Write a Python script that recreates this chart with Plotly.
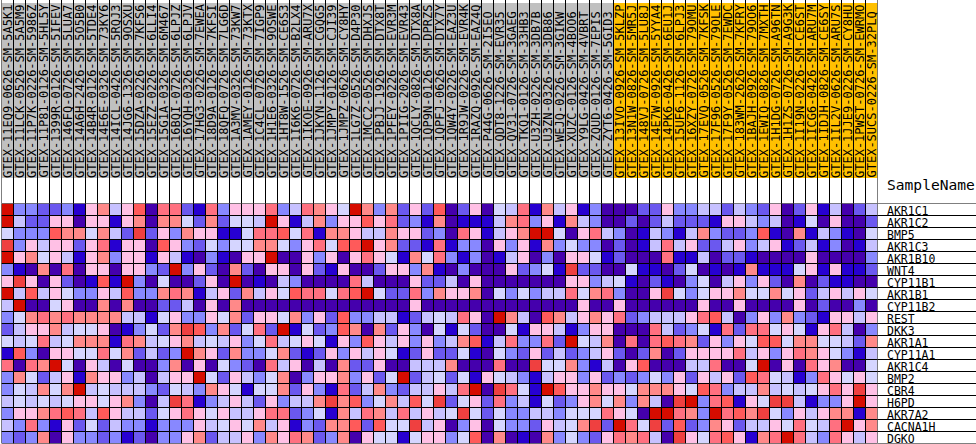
import plotly.graph_objects as go

samples = """GTEX-11EQ9-0626-SM-5A5K1 GTEX-11LCK-0526-SM-5A5M9 GTEX-11P7K-0226-SM-5986Z GTEX-11P81-0126-SM-5HL5Y GTEX-1399R-0126-SM-5IFEV GTEX-146FQ-0726-SM-5LUA7 GTEX-14A6H-2426-SM-5O5B0 GTEX-14B4R-0126-SM-5TDE4 GTEX-14E6E-0326-SM-73KY6 GTEX-14ICL-0426-SM-5RQJ3 GTEX-14JG6-1326-SM-9OSXU GTEX-15DZA-0226-SM-7KFS6 GTEX-15EZZ-0226-SM-6LLI4 GTEX-15G1A-0326-SM-6M467 GTEX-16BQI-0726-SM-6LPJZ GTEX-16YQH-0326-SM-6LPJV GTEX-17HG3-0226-SM-7EWEA GTEX-18D9A-0126-SM-7KFSI GTEX-18QFQ-0726-SM-7LG6D GTEX-1A3MV-0326-SM-73KW7 GTEX-1AMEY-0126-SM-73KTX GTEX-1C4CL-0726-SM-7IGP9 GTEX-1H1E6-0326-SM-9OSWE GTEX-1HT8W-1526-SM-CE6S3 GTEX-1I6K6-0726-SM-B2LX4 GTEX-1IKOE-0926-SM-ARU7X GTEX-1JKYN-1126-SM-CGQG5 GTEX-1JMPY-0126-SM-CJI39 GTEX-1JMPZ-0626-SM-CY8HY GTEX-1LG7Z-0526-SM-D4P30 GTEX-1MCC2-0526-SM-DHXJS GTEX-1PBJJ-1926-SM-DTX8T GTEX-1PFEY-0226-SM-EVR3M GTEX-1PIIG-2026-SM-EVR43 GTEX-1QCLY-0826-SM-DTX8A GTEX-1QP9N-0126-SM-DPRZS GTEX-1QPFJ-0626-SM-DTX7Y GTEX-1QW4Y-0226-SM-EAZ3U GTEX-1R9JW-0226-SM-EVR4K GTEX-1RAZQ-0926-SM-EAZ4Q GTEX-P44G-0626-SM-2I5EO GTEX-QDT8-1226-SM-EVR35 GTEX-QV31-0726-SM-3GAEG GTEX-TKQ1-0126-SM-33HB3 GTEX-U3ZH-0226-SM-3DB7B GTEX-U3ZN-0326-SM-3DB86 GTEX-WEJQ-0226-SM-3GIKW GTEX-XUZC-0126-SM-4BOO6 GTEX-Y9LG-0426-SM-4VBRT GTEX-ZQUD-0126-SM-7EPIS GTEX-ZYT6-0426-SM-5GID3 GTEX-13IVO-0926-SM-5KLZP GTEX-13N1W-0826-SM-5MR5J GTEX-148VJ-0726-SM-5LU8J GTEX-14E7W-0926-SM-5YYA4 GTEX-14PK6-0426-SM-6EU1J GTEX-15UF6-1126-SM-6LPJ3 GTEX-16XZY-0726-SM-79OMU GTEX-17EVQ-0526-SM-7KFSK GTEX-17F96-0526-SM-79OLE GTEX-17F9Y-0526-SM-7EWDC GTEX-183WM-2626-SM-7KFRY GTEX-1BAJH-0926-SM-79OO6 GTEX-1EWIQ-0826-SM-7MXTH GTEX-1H1DG-0726-SM-A96TN GTEX-1H1ZS-0726-SM-A9G3K GTEX-1I19N-0226-SM-CE6ST GTEX-1ICG6-0426-SM-ARU7M GTEX-1IDJH-0826-SM-CE6SY GTEX-1IL2V-0626-SM-ARU7S GTEX-1JJE9-0226-SM-CY8HU GTEX-1PWST-0726-SM-EWRMO GTEX-SUCS-0226-SM-32PLQ""".split()
n_gray = 51

genes = ["AKR1C1","AKR1C2","BMP5","AKR1C3","AKR1B10","WNT4","CYP11B1","AKR1B1","CYP11B2","REST",
         "DKK3","AKR1A1","CYP11A1","AKR1C4","BMP2","CBR4","H6PD","AKR7A2","CACNA1H","DGKO"]

palette = ["#4500ad","#2700d1","#6b58ef","#8888ff","#c7c1ff","#d5d5ff",
           "#ffc0e5","#ff8989","#ff7080","#ff5a5a","#ef4040","#d60c00"]

AKR1C1 = [11,3,3,2,2,3,1,6,7,4,6,9,0,8,8,2,1,8,3,6,6,6,8,3,4, 8,7,6,5,11,7,3,7,2,6,2,9,0,2,6,0,5,4,8,1,7,4,6,1, 3,0,0,0,2,2,6,3,3,4,4,2,4,3,2,6,0,2,6,1,4,0,2,4]
AKR1C2 = [11,4,2,2,6,6,0,6,6,1,6,7,0,7,7,5,2,7,2,5,5,4,11,6,1, 4,7,3,6,6,9,6,8,2,3,1,7,0,1,1,1,4,7,8,3,6,1,7,4, 3,0,0,2,0,2,4,2,2,2,1,6,6,4,3,4,0,1,5,0,6,0,0,2]
BMP5 = [5,3,3,3,9,7,7,5,7,4,2,10,2,6,3,7,6,6,1,1,5,8,8,9,5, 8,1,7,7,6,4,4,7,6,6,2,3,0,8,6,1,4,6,7,11,11,5,0,6, 8,4,3,0,1,4,3,1,4,7,3,2,2,3,9,1,0,7,1,4,3,1,0,5]
AKR1C3 = [10,3,6,4,6,6,2,6,8,1,6,6,0,9,6,3,2,5,3,5,5,7,7,5,3, 6,8,5,9,9,11,6,7,2,2,1,8,1,3,3,0,6,3,6,1,7,3,5,3, 3,0,2,0,1,4,8,4,6,2,2,4,6,3,4,6,1,2,4,1,3,0,1,4]
AKR1B10 = [11,6,7,5,6,4,1,6,7,3,6,6,1,6,4,1,0,3,1,0,6,6,11,0,0, 6,3,6,0,6,8,6,5,1,7,5,8,3,1,3,0,1,4,6,0,3,0,6,6, 5,1,2,0,0,0,8,1,1,4,0,2,2,1,0,0,0,0,6,0,0,0,0,3]
WNT4 = [3,1,0,7,0,8,0,6,6,0,6,6,3,2,11,3,6,2,0,7,2,0,6,6,0, 6,2,1,6,0,0,2,6,6,3,7,1,0,3,0,0,0,6,2,3,5,1,10,2, 2,0,0,5,1,1,0,2,5,0,1,0,1,7,1,1,1,5,6,1,6,1,1,2]
CYP11B1 = [6,10,6,0,6,2,0,1,9,1,11,3,0,5,0,0,2,6,0,11,0,1,0,4,3, 0,0,0,0,8,4,0,0,0,6,2,2,4,0,6,0,0,0,0,0,0,0,6,6, 3,4,5,1,0,2,1,0,3,5,0,4,6,3,6,2,0,7,0,2,1,1,0,0]
AKR1B1 = [11,4,9,4,6,5,3,3,6,4,9,3,3,7,8,7,1,4,6,2,7,4,6,5,9, 8,8,5,8,9,11,5,2,2,8,3,7,6,6,7,0,5,3,5,3,4,4,8,5, 7,8,3,0,0,6,10,5,3,5,6,6,7,5,5,7,5,6,2,4,6,4,6,5]
CYP11B2 = [4,11,0,0,5,6,0,0,7,0,7,0,0,2,2,4,0,6,0,7,0,0,0,0,0, 0,0,0,0,0,0,0,0,0,6,0,0,0,0,0,0,0,0,0,0,0,0,0,6, 0,0,6,0,0,0,0,0,0,6,0,0,6,0,0,0,0,6,0,2,0,0,3,0]
REST = [3,5,7,8,7,8,7,7,7,7,4,4,1,5,6,3,3,6,5,7,2,6,6,5,7, 3,6,2,9,3,3,4,4,1,2,4,5,4,8,6,0,11,7,4,0,9,7,4,6, 7,6,8,2,3,4,4,4,6,8,9,4,0,3,6,3,7,3,2,1,6,6,4,6]
DKK3 = [2,4,6,6,7,4,5,5,6,0,1,3,5,2,7,10,9,3,7,2,5,8,2,11,1, 5,2,3,9,7,0,7,2,6,3,0,5,1,5,2,0,0,5,1,6,6,4,1,3, 6,6,0,0,0,8,4,2,3,5,1,8,2,8,8,5,6,5,1,6,8,4,0,3]
AKR1A1 = [5,4,5,8,4,5,7,7,7,1,8,7,4,5,6,7,4,5,4,6,3,5,8,4,5, 6,5,1,6,3,9,6,4,6,3,6,3,4,7,9,1,4,8,3,3,8,2,11,5, 4,7,0,8,0,8,9,8,7,2,6,3,6,5,9,9,5,7,7,5,5,4,2,7]
CYP11A1 = [1,9,3,0,6,6,5,5,8,5,7,2,4,2,3,11,7,6,2,7,3,3,5,7,2, 1,2,6,3,6,4,6,5,1,2,6,2,2,5,1,0,5,3,2,6,2,4,2,3, 4,6,2,0,2,7,0,2,6,6,6,6,8,4,6,3,6,8,7,6,5,3,1,4]
AKR1C4 = [8,0,8,7,11,5,0,6,4,0,5,0,0,3,7,0,6,0,5,3,2,0,8,4,6, 0,4,0,7,2,2,6,0,0,4,4,4,7,0,0,0,8,0,0,10,5,5,7,3, 1,4,0,6,9,0,0,0,4,4,8,0,0,5,11,0,6,0,8,6,7,0,0,5]
BMP2 = [3,7,5,2,4,6,1,7,6,6,3,4,0,4,6,6,11,5,2,6,4,3,5,7,0, 3,6,6,7,3,6,2,5,11,2,4,5,2,5,1,6,5,4,3,1,4,6,6,3, 6,2,3,2,3,5,3,6,2,6,4,6,2,9,8,5,4,1,3,8,6,5,6,5]
CBR4 = [3,5,4,7,5,7,11,4,5,4,4,4,3,2,5,4,3,7,6,5,1,5,5,7,2, 6,3,1,8,2,4,7,3,2,4,4,6,4,8,11,0,10,8,5,1,11,9,6,6, 7,6,6,5,7,7,7,6,5,9,8,3,4,4,7,4,5,4,5,6,8,6,10,6]
H6PD = [4,5,4,5,4,5,6,6,5,6,7,3,0,4,10,8,1,3,4,6,4,2,6,3,4, 4,7,10,7,9,3,5,7,4,9,5,10,2,5,6,2,8,3,4,1,5,2,3,6, 7,5,7,3,7,4,0,10,11,3,8,9,1,6,5,10,10,4,1,3,3,6,11,6]
AKR7A2 = [3,6,6,7,8,9,8,4,9,6,4,4,2,5,6,8,6,5,6,4,4,6,8,8,2, 3,5,1,7,4,8,7,4,8,4,6,4,5,10,5,2,5,3,3,4,4,3,5,5, 5,8,6,5,0,11,11,8,7,3,11,8,9,7,10,5,3,6,4,6,7,7,1,7]
CACNA1H = [4,3,8,3,1,6,2,5,2,4,3,3,1,3,3,3,6,4,5,6,5,7,4,6,1, 3,2,7,7,9,2,9,5,5,10,4,6,0,3,6,0,5,3,3,2,6,4,5,7, 10,2,11,8,5,10,2,9,2,3,7,6,2,4,4,6,5,8,5,4,8,11,6,7]
DGKO = [3,2,3,7,0,6,3,3,2,3,1,2,0,3,3,6,7,2,4,4,6,3,7,6,8, 7,2,3,7,0,6,5,5,1,5,6,6,3,5,9,0,7,0,1,0,7,3,5,3, 2,6,8,7,8,4,0,10,6,5,8,9,6,1,7,8,11,8,4,3,8,6,4,6]

matrix = [AKR1C1, AKR1C2, BMP5, AKR1C3, AKR1B10, WNT4, CYP11B1, AKR1B1, CYP11B2, REST,
          DKK3, AKR1A1, CYP11A1, AKR1C4, BMP2, CBR4, H6PD, AKR7A2, CACNA1H, DGKO]

W, H = 976, 444
PLOT_L, PLOT_R = 1.5, 877.5
TOP, BOT, HDR_TOP, HDR_BOT = 203.5, 443.5, 3, 178
FONT = "DejaVu Sans Mono"

steps = []
for i, c in enumerate(palette):
    steps += [[i / 12, c], [(i + 1) / 12, c]]

BLACK = dict(color="#000000", width=1)
x_idx = list(range(len(samples)))
fig = go.Figure()

# one row of cells per gene, coloured through the level scale
for k, row in enumerate(matrix):
    fig.add_trace(go.Bar(x=x_idx, y=[1] * len(row), base=[k] * len(row), width=1, name=genes[k],
                         marker=dict(color=row, colorscale=steps, cmin=-0.5, cmax=11.5, showscale=False, line=BLACK),
                         hoverinfo="skip"))

band_colors = ["#c0c0c0"] * n_gray + ["#ffc000"] * (len(samples) - n_gray)
fig.add_trace(go.Bar(x=x_idx, y=[HDR_BOT - HDR_TOP] * len(samples), base=[TOP - HDR_BOT] * len(samples),
                     width=1, yaxis="y2", marker=dict(color=band_colors, line=dict(width=0)), hoverinfo="skip"))

annotations = []
for i, s in enumerate(samples):
    annotations.append(dict(text=s, x=i, xref="x", y=1 - HDR_BOT / H, yref="paper", xanchor="center",
                            yanchor="bottom", textangle=-90, showarrow=False, borderpad=0, borderwidth=0,
                            font=dict(family=FONT, size=12, color="#000000")))
for k, g in enumerate(genes):
    annotations.append(dict(text=g, x=886 / W, xref="paper", y=k + 0.5, yref="y", xanchor="left", yanchor="middle",
                            yshift=-1.5, borderpad=0, showarrow=False,
                            font=dict(family=FONT, size=11.5, color="#000000")))
annotations.append(dict(text="SampleName", x=885.5 / W, xref="paper", y=1 - 184.5 / H, yref="paper", xanchor="left",
                        yanchor="middle", borderpad=0, showarrow=False, font=dict(family=FONT, size=14.6, color="#000000")))

shapes = []
for k in range(len(genes) + 1):
    shapes.append(dict(type="line", xref="paper", yref="y", x0=PLOT_R / W, x1=1, y0=k, y1=k, line=BLACK))
for i in range(len(samples) + 1):
    shapes.append(dict(type="line", xref="x", yref="paper", x0=i - 0.5, x1=i - 0.5, y0=(H - TOP) / H, y1=1, line=BLACK))

fig.update_layout(
    width=W, height=H, autosize=False, margin=dict(l=0, r=0, t=0, b=0, pad=0),
    plot_bgcolor="rgba(0,0,0,0)", paper_bgcolor="#ffffff", showlegend=False, barmode="overlay",
    xaxis=dict(domain=[PLOT_L / W, PLOT_R / W], range=[-0.5, len(samples) - 0.5], visible=False, fixedrange=True),
    yaxis=dict(domain=[(H - BOT) / H, (H - TOP) / H], range=[len(genes), 0], visible=False, fixedrange=True),
    yaxis2=dict(domain=[(H - TOP) / H, 1], range=[0, TOP], visible=False, fixedrange=True),
    annotations=annotations, shapes=shapes,
)
fig.update_traces(cliponaxis=False)
fig.write_html("out.html", config={"displayModeBar": False},
               post_script="document.body.style.margin='0';document.body.style.overflow='hidden';")
